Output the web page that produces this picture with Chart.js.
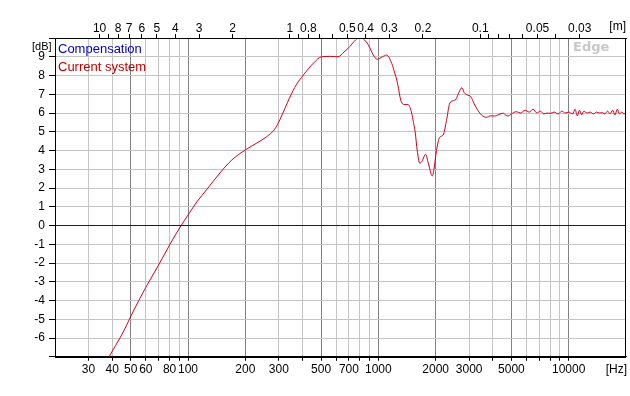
<!DOCTYPE html>
<html>
<head>
<meta charset="utf-8">
<script src="https://cdn.jsdelivr.net/npm/chart.js@4/dist/chart.umd.min.js"></script>
<style>
	body { margin: 0; background: #fff; }
	#wrap { position: relative; width: 630px; height: 396px; }
</style>
</head>
<body>
<div id="wrap"><canvas id="RespChart" width="630" height="396"></canvas></div>
<script>
// frequency response
var Freqs = [36, 38.5, 45, 52, 60, 71, 81, 92, 100, 112, 125, 147, 170, 200, 230, 259, 286, 304, 323, 343, 370, 404, 455, 503, 560, 614, 660, 707, 760, 800, 845, 886, 940, 987, 1050, 1105, 1175, 1220, 1250, 1320, 1380, 1430, 1490, 1520, 1560, 1600, 1650, 1700, 1770, 1830, 1920, 1960, 2020, 2100, 2190, 2280, 2370, 2460, 2560, 2650, 2750, 2820, 2930, 3060, 3150, 3280, 3480, 3700, 3900, 4090, 4300, 4520, 4650, 4800, 5000, 5300, 5600, 5900, 6200, 6500, 6800, 7100, 7400, 7700, 8000, 8400, 8800, 9200, 9600, 10000, 10500, 10800, 11100, 11400, 11700, 12000, 12500, 13000, 13500, 14000, 14500, 15000, 15500, 16000, 16500, 17000, 17500, 18000, 18500, 19000, 19500, 20000];
var CurrentDb = [-7.6, -7.0, -5.8, -4.5, -3.3, -2.0, -0.94, 0, 0.56, 1.3, 1.9, 2.8, 3.5, 4.03, 4.4, 4.74, 5.15, 5.65, 6.25, 6.85, 7.5, 8.03, 8.65, 9.0, 9.02, 9.0, 9.25, 9.54, 9.9, 10.04, 9.9, 9.63, 9.1, 8.86, 9.0, 9.09, 8.65, 8.12, 7.76, 6.6, 6.45, 6.45, 6.07, 5.63, 5.0, 4.0, 3.32, 3.45, 3.8, 3.32, 2.64, 3.0, 4.0, 4.7, 4.83, 5.6, 6.52, 6.65, 6.75, 7.1, 7.35, 7.1, 6.96, 6.87, 6.6, 6.25, 5.9, 5.77, 5.85, 5.84, 5.92, 5.99, 5.9, 5.84, 5.95, 6.07, 6.0, 6.15, 6.05, 6.2, 6.0, 6.1, 5.95, 6.0, 5.98, 6.05, 5.95, 6.1, 6.0, 6.05, 5.95, 6.2, 5.85, 6.15, 5.9, 6.1, 6.0, 6.05, 5.95, 6.05, 6.0, 6.02, 5.95, 6.1, 5.95, 6.15, 5.9, 6.2, 5.95, 6.05, 5.95, 6.0];
var CompFreqs = [20, 20000];
var CompDb = [0, 0];

// axes
var GridFreqs = [30, 40, 50, 60, 70, 80, 90, 100, 200, 300, 400, 500, 600, 700, 800, 900, 1000, 2000, 3000, 4000, 5000, 6000, 7000, 8000, 9000, 10000];
var DarkFreqs = [50, 100, 200, 500, 1000, 2000, 5000, 10000];
var FreqLabels = [30, 40, 50, 60, 80, 100, 200, 300, 500, 700, 1000, 2000, 3000, 5000, 10000];
var WaveTicks = [10, 9, 8, 7, 6, 5, 4, 3, 2, 1, 0.9, 0.8, 0.7, 0.6, 0.5, 0.4, 0.3, 0.2, 0.1, 0.09, 0.08, 0.07, 0.06, 0.05, 0.04, 0.03];
var WaveLabels = [10, 8, 7, 6, 5, 4, 3, 2, 1, 0.8, 0.5, 0.4, 0.3, 0.2, 0.1, 0.05, 0.03];
var DbTicks = [-7, -6, -5, -4, -3, -2, -1, 0, 1, 2, 3, 4, 5, 6, 7, 8, 9, 10];
var DbLabels = [-6, -5, -4, -3, -2, -1, 0, 1, 2, 3, 4, 5, 6, 7, 8, 9];
var SoundSpeed = 343;

var tickFont = { family: "'Liberation Sans', Arial, sans-serif", size: 12 };

// frame, unit labels, legend and watermark
var extrasPlugin = {
	id: 'extras',
	afterDraw: function(chart){
		var ctx = chart.ctx, a = chart.chartArea;
		ctx.save();
		ctx.strokeStyle = '#000';
		ctx.lineWidth = 1;
		ctx.strokeRect(Math.round(a.left) + 0.5, Math.round(a.top) + 0.5, Math.round(a.right - a.left) - 1, Math.round(a.bottom - a.top));

		ctx.fillStyle = '#000';
		ctx.textBaseline = 'middle';
		ctx.font = "11px 'Liberation Sans', Arial, sans-serif";
		ctx.textAlign = 'left';
		ctx.fillText('[dB]', 32, 47);
		ctx.font = "12px 'Liberation Sans', Arial, sans-serif";
		ctx.textAlign = 'right';
		ctx.fillText('[Hz]', 627, 370);
		ctx.fillText('[m]', 626, 27);

		ctx.textAlign = 'left';
		ctx.font = "13px 'Liberation Sans', Arial, sans-serif";
		ctx.fillStyle = '#0000c0';
		ctx.fillText('Compensation', 58, 49);
		ctx.fillStyle = '#c00000';
		ctx.fillText('Current system', 58, 67);

		ctx.font = "bold 13px 'DejaVu Sans', Verdana, sans-serif";
		ctx.fillStyle = '#c8c8c8';
		ctx.fillText('Edge', 573, 48);
		ctx.restore();
	}
};

function toPoints(xs, ys){
	var pts = [];
	for(let i=0; i<xs.length; i++) pts.push({x: xs[i], y: ys[i]});
	return pts;
}

new Chart(document.getElementById('RespChart'), {
	type: 'line',
	data: {
		datasets: [{
			label: 'Compensation',
			data: toPoints(CompFreqs, CompDb),
			borderColor: '#0000ff',
			borderWidth: 1,
			pointRadius: 0,
			xAxisID: 'x',
			yAxisID: 'y'
		},{
			label: 'Current system',
			data: toPoints(Freqs, CurrentDb),
			borderColor: '#cc0020',
			borderWidth: 1,
			pointRadius: 0,
			cubicInterpolationMode: 'monotone',
			xAxisID: 'x',
			yAxisID: 'y'
		}]
	},
	options: {
		responsive: false,
		animation: false,
		devicePixelRatio: 1,
		layout: { padding: { left: 0, right: 4, top: 0, bottom: 0 } },
		plugins: { legend: { display: false }, tooltip: { enabled: false } },
		scales: {
			x: {
				type: 'logarithmic',
				position: 'bottom',
				min: 20,
				max: 20000,
				afterBuildTicks: function(scale){ scale.ticks = GridFreqs.map(v => ({value: v})); },
				afterFit: function(scale){ scale.height = 39.25; },
				ticks: {
					autoSkip: false,
					maxRotation: 0,
					padding: 2,
					color: '#000',
					font: tickFont,
					callback: function(v){ return FreqLabels.includes(v) ? String(v) : ''; }
				},
				grid: {
					color: function(c){ return (c.tick && DarkFreqs.includes(c.tick.value)) ? '#808080' : '#c4c4c4'; },
					tickColor: '#000',
					tickLength: 4
				},
				border: { display: true, color: '#000' }
			},
			xTop: {
				type: 'logarithmic',
				position: 'top',
				min: 20,
				max: 20000,
				afterBuildTicks: function(scale){ scale.ticks = WaveTicks.map(w => ({value: SoundSpeed / w})); },
				afterFit: function(scale){ scale.height = 38; },
				ticks: {
					autoSkip: false,
					maxRotation: 0,
					padding: -2,
					color: '#000',
					font: tickFont,
					callback: function(v, i){ return WaveLabels.includes(WaveTicks[i]) ? String(WaveTicks[i]) : ''; }
				},
				grid: { drawOnChartArea: false, tickColor: '#000', tickLength: 4 },
				border: { display: true, color: '#000' }
			},
			y: {
				type: 'linear',
				min: -7,
				max: 10,
				afterBuildTicks: function(scale){ scale.ticks = DbTicks.map(v => ({value: v})); },
				afterFit: function(scale){ scale.width = 55; },
				ticks: {
					padding: 4,
					color: '#000',
					font: tickFont,
					callback: function(v){ return DbLabels.includes(v) ? String(v) : ''; }
				},
				grid: { color: '#c4c4c4', tickColor: '#000', tickLength: 6 },
				border: { display: true, color: '#000' }
			}
		}
	},
	plugins: [extrasPlugin]
});
</script>
</body>
</html>
